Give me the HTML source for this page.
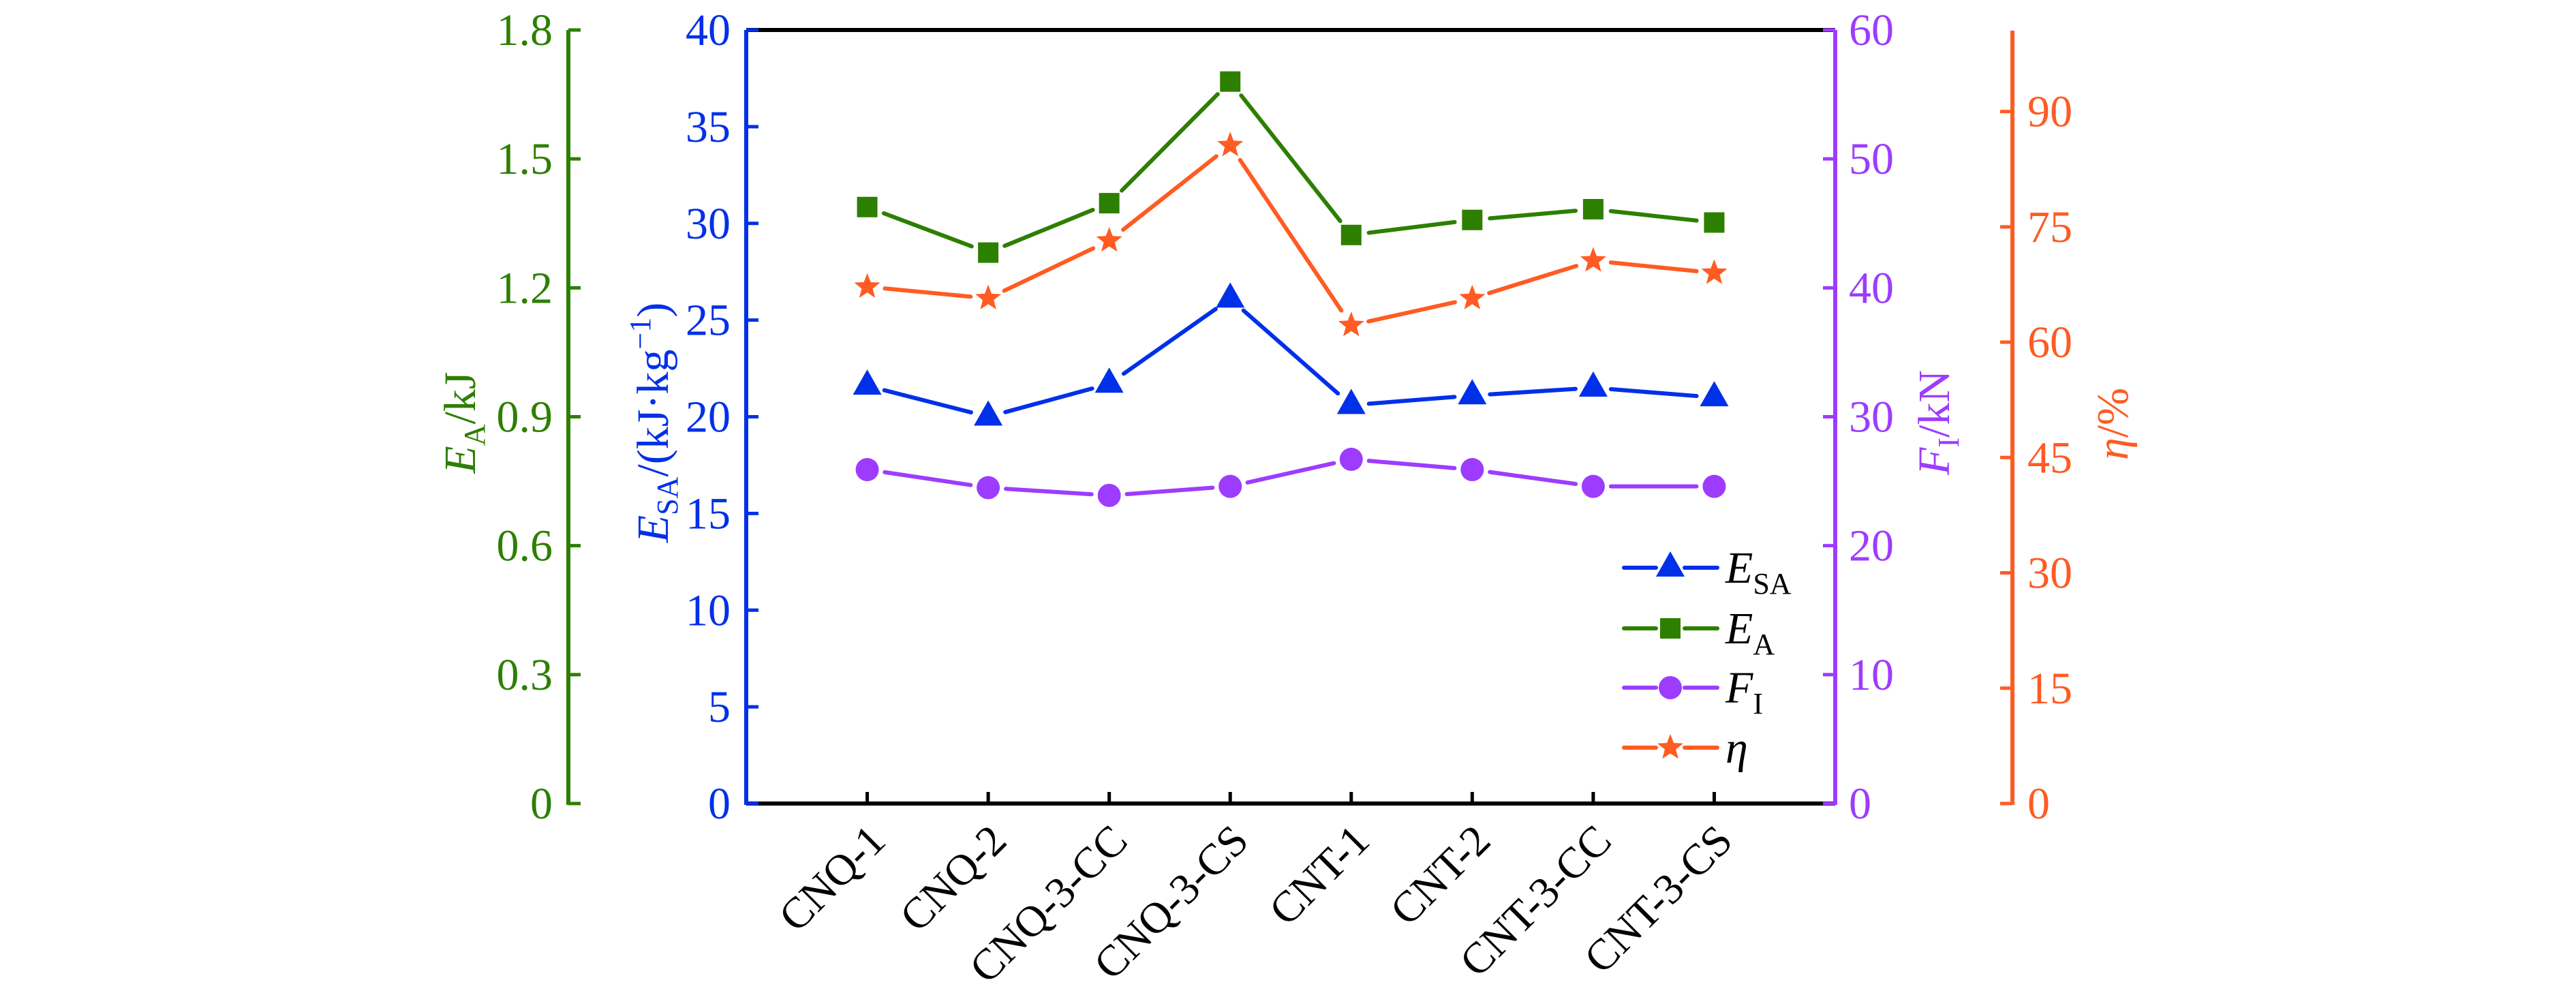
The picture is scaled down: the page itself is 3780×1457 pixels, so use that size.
<!DOCTYPE html>
<html><head><meta charset="utf-8"><style>
html,body{margin:0;padding:0;background:#fff;}
svg{display:block;font-family:"Liberation Serif","Times New Roman",serif;}
</style></head><body>
<svg id="chart" width="3780" height="1457" viewBox="0 0 3780 1457" xmlns="http://www.w3.org/2000/svg">
<rect width="3780" height="1457" fill="#fff"/>
<g id="axes"></g>
<g id="series"></g>
<g id="legend"></g>
</svg>
<script>
const categories = ["CNQ-1","CNQ-2","CNQ-3-CC","CNQ-3-CS","CNT-1","CNT-2","CNT-3-CC","CNT-3-CS"];
const esaValues = [21.6, 20.0, 21.7, 26.1, 20.6, 21.1, 21.5, 21.0];
const eaValues = [1.388, 1.282, 1.397, 1.680, 1.323, 1.358, 1.383, 1.352];
const fiValues = [25.9, 24.5, 23.9, 24.6, 26.7, 25.9, 24.6, 24.6];
const etaValues = [67.2, 65.7, 73.2, 85.6, 62.2, 65.7, 70.6, 69.0];
const esaTicks = [0,5,10,15,20,25,30,35,40];
const eaTicks = [0,0.3,0.6,0.9,1.2,1.5,1.8];
const fiTicks = [0,10,20,30,40,50,60];
const etaTicks = [0,15,30,45,60,75,90];

const NS = "http://www.w3.org/2000/svg";
const C = {green:"#2d7f00", blue:"#0030e8", purple:"#9d3cff", orange:"#ff5b22"};
const X0 = 1095, X1 = 2693, Y0 = 1179, YT = 44;
const xPos = i => X0 + (X1 - X0) / (categories.length + 1) * (i + 1);
const yScale = max => v => Y0 - v / max * (Y0 - YT);
const yEsa = yScale(40), yEa = yScale(1.8), yFi = yScale(60), yEta = yScale(100.6);

function el(tag, attrs, parent, text) {
  const e = document.createElementNS(NS, tag);
  for (const k in attrs) e.setAttribute(k, attrs[k]);
  if (text !== undefined) e.textContent = text;
  parent.appendChild(e);
  return e;
}
const axes = document.getElementById("axes");
const series = document.getElementById("series");
const legend = document.getElementById("legend");

let f = el("line", {x1:X0, y1:YT, x2:X1, y2:YT, stroke:"#000", "stroke-width":6}, axes);


f = el("line", {x1:X0, y1:Y0, x2:X1, y2:Y0, stroke:"#000", "stroke-width":6}, axes);



categories.forEach((c, i) => {
  const x = xPos(i);
  const t = el("line", {x1:x, y1:Y0, x2:x, y2:Y0 - 17, stroke:"#000", "stroke-width":5}, axes);
  
  
  const lb = el("text", {x:x + 30, y:Y0 + 58, "text-anchor":"end", "font-size":64, fill:"#000",
    transform:`rotate(-45 ${x + 30} ${Y0 + 58})`}, axes, c);
  
  
});

function yAxis(name, ax, color, ticks, ys, tickDir, labelSide, labelX, top) {
  const a = el("line", {x1:ax, y1:top, x2:ax, y2:Y0 + 2, stroke:color, "stroke-width":6}, axes);
  
  
  ticks.forEach(v => {
    const y = ys(v);
    const t = el("line", {x1:ax, y1:y, x2:ax + tickDir * 18, y2:y, stroke:color, "stroke-width":5}, axes);
    
    
    const lb = el("text", {x:labelX, y:y + 22, "text-anchor":labelSide, "font-size":66, fill:color}, axes, String(v));
    
    
  });
}
yAxis("ea", 834, C.green, eaTicks, yEa, 1, "end", 811, YT);
yAxis("esa", X0, C.blue, esaTicks, yEsa, 1, "end", 1072, YT);
yAxis("fi", X1, C.purple, fiTicks, yFi, -1, "start", 2713, YT);
yAxis("eta", 2953, C.orange, etaTicks, yEta, -1, "start", 2975, 45);

function title(name, cx, cy, color, html) {
  const t = el("text", {x:cx, y:cy, "text-anchor":"middle", "font-size":66, fill:color,
    transform:`rotate(-90 ${cx} ${cy})`}, axes);
  t.innerHTML = html;
  
  
}
title("ea-axis-title", 697, 620, C.green, '<tspan font-style="italic">E</tspan><tspan font-size="44" dy="14">A</tspan><tspan dy="-14">/kJ</tspan>');
title("esa-axis-title", 980, 620, C.blue, '<tspan font-style="italic">E</tspan><tspan font-size="44" dy="14">SA</tspan><tspan dy="-14">/(kJ·kg</tspan><tspan font-size="44" dy="-26">−1</tspan><tspan dy="26">)</tspan>');
title("fi-axis-title", 2860, 620, C.purple, '<tspan font-style="italic">F</tspan><tspan font-size="44" dy="14">I</tspan><tspan dy="-14">/kN</tspan>');
title("eta-axis-title", 3122, 622, C.orange, '<tspan font-style="italic">η</tspan>/%');

function marker(kind, x, y, color, parent) {
  let m;
  if (kind === "tri") m = el("polygon", {points:`${x},${y-24} ${x-21},${y+13} ${x+21},${y+13}`, fill:color}, parent);
  else if (kind === "sq") m = el("rect", {x:x-15, y:y-15, width:30, height:30, fill:color}, parent);
  else if (kind === "circ") m = el("circle", {cx:x, cy:y, r:17, fill:color}, parent);
  else {
    let p = [];
    for (let k = 0; k < 10; k++) {
      const r = k % 2 ? 8.5 : 20, a = -Math.PI / 2 + k * Math.PI / 5;
      p.push((x + r * Math.cos(a)).toFixed(1) + "," + (y + r * Math.sin(a)).toFixed(1));
    }
    m = el("polygon", {points:p.join(" "), fill:color}, parent);
  }
  return m;
}

function drawSeries(name, vals, ys, color, kind) {
  const g = el("g", {}, series);
  
  
  const pts = vals.map((v, i) => [xPos(i), ys(v)]);
  for (let i = 0; i < pts.length - 1; i++) {
    const [xa, ya] = pts[i], [xb, yb] = pts[i + 1];
    const d = Math.hypot(xb - xa, yb - ya), g2 = 26;
    const ux = (xb - xa) / d, uy = (yb - ya) / d;
    const s = el("line", {x1:xa + ux * g2, y1:ya + uy * g2, x2:xb - ux * g2, y2:yb - uy * g2,
      stroke:color, "stroke-width":6, "stroke-linecap":"round"}, g);
    
    
  }
  pts.forEach(([x, y]) => {
    const m = marker(kind, x, y, color, g);
    
    
  });
}
drawSeries("ea", eaValues, yEa, C.green, "sq");
drawSeries("eta", etaValues, yEta, C.orange, "star");
drawSeries("esa", esaValues, yEsa, C.blue, "tri");
drawSeries("fi", fiValues, yFi, C.purple, "circ");

const legendItems = [
  ["esa", C.blue, "tri", 833, '<tspan font-style="italic">E</tspan><tspan font-size="44" dy="16">SA</tspan>'],
  ["ea", C.green, "sq", 922, '<tspan font-style="italic">E</tspan><tspan font-size="44" dy="16">A</tspan>'],
  ["fi", C.purple, "circ", 1009, '<tspan font-style="italic">F</tspan><tspan font-size="44" dy="16">I</tspan>'],
  ["eta", C.orange, "star", 1097, '<tspan font-style="italic">η</tspan>']
];
legendItems.forEach(([n, col, kind, y, html]) => {
  const g = el("g", {}, legend);
  
  
  el("line", {x1:2383, y1:y, x2:2430, y2:y, stroke:col, "stroke-width":6, "stroke-linecap":"round"}, g);
  el("line", {x1:2472, y1:y, x2:2520, y2:y, stroke:col, "stroke-width":6, "stroke-linecap":"round"}, g);
  marker(kind, 2451, y, col, g);
  const t = el("text", {x:2532, y:y + 22, "font-size":66, fill:"#000"}, g);
  t.innerHTML = html;
});
</script>
</body></html>
